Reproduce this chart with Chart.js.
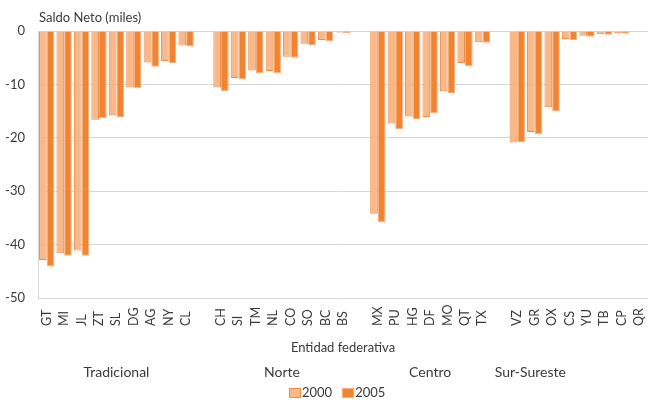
<!DOCTYPE html>
<html>
<head>
<meta charset="utf-8">
<script src="https://cdn.jsdelivr.net/npm/chart.js@4.4.1/dist/chart.umd.min.js"></script>
<style>
  html, body { margin: 0; background: #fff; }
  #wrap { width: 648px; height: 400px; position: relative; }
</style>
</head>
<body>
<div id="wrap"><canvas id="chart"></canvas></div>
<script>
// regiones y entidades (orden del original)
const regiones = ['Tradicional', 'Norte', 'Centro', 'Sur-Sureste'];
const entidades = [
  ['GT', 'MI', 'JL', 'ZT', 'SL', 'DG', 'AG', 'NY', 'CL'],
  ['CH', 'SI', 'TM', 'NL', 'CO', 'SO', 'BC', 'BS'],
  ['MX', 'PU', 'HG', 'DF', 'MO', 'QT', 'TX'],
  ['VZ', 'GR', 'OX', 'CS', 'YU', 'TB', 'CP', 'QR'],
];
// saldo neto migratorio, miles
const saldo2000 = [
  [-42.9, -41.6, -41.1, -16.6, -15.8, -10.6, -5.9, -5.6, -2.7],
  [-10.6, -8.8, -7.4, -7.5, -4.8, -2.4, -1.7, -0.3],
  [-34.2, -17.3, -16.0, -16.1, -11.3, -6.0, -2.1],
  [-20.9, -18.9, -14.3, -1.5, -0.9, -0.6, -0.4, -0.1],
];
const saldo2005 = [
  [-44.1, -42.1, -42.1, -16.3, -16.1, -10.7, -6.7, -6.0, -2.9],
  [-11.3, -9.0, -7.9, -7.9, -5.0, -2.6, -1.9, -0.4],
  [-35.8, -18.4, -16.5, -15.4, -11.7, -6.6, -2.2],
  [-20.8, -19.3, -15.0, -1.7, -1.1, -0.7, -0.5, -0.1],
];
const anios = ['2000', '2005'];
const yMin = -50, yMax = 0, yStep = 10;
const regionAt = [4, 13.5, 22, 27.75];

const FONT = 'Lato, "Open Sans", sans-serif';
const TXT = '#3a3a3a';
const FILL = ['#F7B88A', '#EF8533'];
const EDGE = ['#EE8C48', '#F5AE7C'];

// aplanar con una categoria vacia entre regiones
const cats = [], d2000 = [], d2005 = [];
entidades.forEach((grp, g) => {
  if (g > 0) { cats.push(''); d2000.push(null); d2005.push(null); }
  grp.forEach((e, i) => {
    cats.push(e);
    d2000.push(saldo2000[g][i]);
    d2005.push(saldo2005[g][i]);
  });
});

const textPlugin = {
  id: 'textPlugin',
  afterDraw(chart) {
    const { ctx, chartArea, scales: { x } } = chart;
    const b = chartArea.bottom;
    ctx.save();
    ctx.fillStyle = TXT;

    // titulo del eje y
    ctx.font = '13px ' + FONT;
    ctx.textAlign = 'left';
    ctx.textBaseline = 'middle';
    ctx.fillText('Saldo Neto (miles)', chartArea.left + 1, 18);

    // etiquetas de entidades, rotadas
    ctx.font = '12.5px ' + FONT;
    cats.forEach((c, i) => {
      if (!c) return;
      ctx.save();
      ctx.translate(x.getPixelForValue(i), b + 28);
      ctx.rotate(-Math.PI / 2);
      ctx.textAlign = 'left';
      ctx.textBaseline = 'middle';
      ctx.fillText(c, 0, 0);
      ctx.restore();
    });

    // titulo del eje x
    ctx.font = '13px ' + FONT;
    ctx.textAlign = 'center';
    ctx.fillText('Entidad federativa', (chartArea.left + chartArea.right) / 2, b + 50);

    // regiones
    ctx.font = '14px ' + FONT;
    const step = x.getPixelForValue(1) - x.getPixelForValue(0);
    regiones.forEach((r, g) => {
      ctx.fillText(r, x.getPixelForValue(0) + regionAt[g] * step, b + 74);
    });

    // leyenda
    ctx.font = '13px ' + FONT;
    ctx.textAlign = 'left';
    let lx = 289;
    const ly = b + 95;
    anios.forEach((a, k) => {
      ctx.fillStyle = FILL[k];
      ctx.fillRect(lx, ly - 5, 12, 10);
      ctx.strokeStyle = EDGE[k];
      ctx.lineWidth = 1;
      ctx.strokeRect(lx + 0.5, ly - 4.5, 11, 9);
      ctx.fillStyle = TXT;
      ctx.fillText(a, lx + 13, ly);
      lx += 13 + ctx.measureText(a).width + 10;
    });
    ctx.restore();
  }
};

new Chart(document.getElementById('chart'), {
  type: 'bar',
  data: {
    labels: cats,
    datasets: [
      {
        label: anios[0], data: d2000,
        backgroundColor: FILL[0], borderColor: EDGE[0], borderWidth: 1,
        categoryPercentage: 0.88, barPercentage: 1,
      },
      {
        label: anios[1], data: d2005,
        backgroundColor: FILL[1], borderColor: EDGE[1], borderWidth: 1,
        categoryPercentage: 0.88, barPercentage: 1,
      },
    ],
  },
  options: {
    responsive: true, maintainAspectRatio: false, animation: false,
    layout: { padding: { top: 31, right: 0, bottom: 0, left: 0 } },
    plugins: {
      tooltip: { enabled: false },
      legend: { display: false },
    },
    scales: {
      x: {
        ticks: { display: false },
        grid: { display: false },
        border: { display: false },
        afterFit: s => { s.height = 102; },
      },
      y: {
        min: yMin, max: yMax,
        ticks: { stepSize: yStep, color: TXT, font: { family: FONT, size: 13 }, padding: 13 },
        grid: { color: '#d6d6d6', drawTicks: false },
        border: { color: '#d6d6d6' },
        afterFit: s => { s.width = 38; },
      },
    },
  },
  plugins: [textPlugin],
});
</script>
</body>
</html>
